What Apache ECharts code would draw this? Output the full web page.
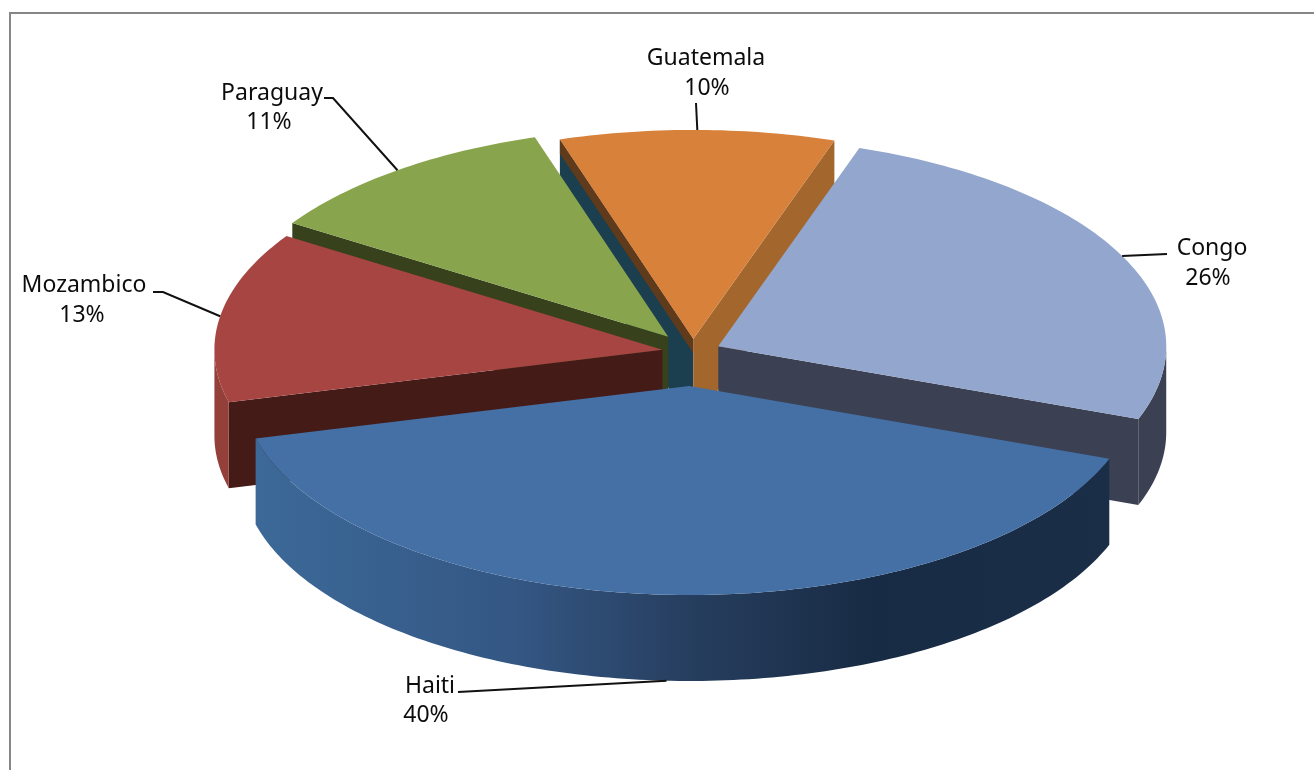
<!DOCTYPE html>
<html>
<head>
<meta charset="utf-8">
<title>Pie</title>
<style>
  html, body { margin: 0; padding: 0; background: #fff; }
  #chart { width: 1314px; height: 770px; }
</style>
<script src="https://cdn.jsdelivr.net/npm/echarts@6/dist/echarts.min.js"></script>
</head>
<body>
<div id="chart"></div>
<script>
const categories = ['Guatemala', 'Congo', 'Haiti', 'Mozambico', 'Paraguay']
const shares = [10, 26, 40, 13, 11]
const percentLabels = ['10%', '26%', '40%', '13%', '11%']

// 从后往前画
const paintOrder = [0, 4, 3, 1, 2]

const center = [693, 352]
const rx = 448
const ry = 209
const depth = 86
const firstAngle = 250.4
const explode = [28, 28, 73, 31, 41]

// [名称x, 名称y, 百分比x, 百分比y]
const labelSpots = [
  [706, 58, 707, 88],
  [1212, 248, 1208, 278],
  [430, 686, 426, 715],
  [84, 285, 82, 315],
  [272, 93, 269, 122]
]
// 引线拐点
const leaderStarts = [
  [[696, 103]],
  [[1167, 254]],
  [[458, 692]],
  [[153, 292], [163, 292]],
  [[324, 98], [333, 98]]
]

const topColors = ['#D7813B', '#93A7CE', '#4570A6', '#A64542', '#88A44D']
const wallColors = ['#A3662D', '#3B4152', '#2A4666', '#451B18', '#37411C']
const outerColors = ['#A3662D', '#3B4152', null, '#93403A', '#37411C']

const total = shares.reduce((a, b) => a + b, 0)
const rad = (a) => a * Math.PI / 180
// 透视造成的角度偏移
const warp = (a) => a + 1.2 + 1.1 * Math.cos(rad(a - 240))

function sliceAngles (index) {
  let from = firstAngle
  for (let i = 0; i < index; i++) from += shares[i] / total * 360
  return [from, from + shares[index] / total * 360]
}

function apexOf (index) {
  const [a, b] = sliceAngles(index)
  const mid = rad((warp(a) + warp(b)) / 2)
  return [
    center[0] + explode[index] * Math.cos(mid),
    center[1] + explode[index] * Math.sin(mid) * ry / rx
  ]
}

function rimPoint (apex, angle, drop) {
  return [
    apex[0] + rx * Math.cos(rad(angle)),
    apex[1] + ry * Math.sin(rad(angle)) + (drop || 0)
  ]
}

function poly (points, fill) {
  return { type: 'polygon', silent: true, shape: { points }, style: { fill } }
}

// 径向切面
function edgeWall (apex, angle, fill, h) {
  const p = rimPoint(apex, angle)
  return poly([apex, p, [p[0], p[1] + h], [apex[0], apex[1] + h]], fill)
}

function hlabel (x, y, text) {
  return {
    type: 'text',
    silent: true,
    style: {
      x, y, text,
      fill: '#0c0c0c',
      font: '23px "Noto Sans"',
      textAlign: 'center',
      textVerticalAlign: 'middle'
    }
  }
}

function renderSlice (params, api) {
  const index = api.value(1)
  const [a0, b0] = sliceAngles(index)
  const a = warp(a0)
  const b = warp(b0)
  const apex = apexOf(index)
  const children = []

  // 只画能看到的切面
  if (index === 0) {
    children.push(edgeWall(apex, a, '#1B3F4E', depth))
    children.push(edgeWall(apex, a, '#5F3B1C', 14))
    children.push(edgeWall(apex, b, wallColors[0], depth))
  } else if (index === 1) {
    children.push(edgeWall(apex, b, wallColors[1], depth))
  } else if (index === 3 || index === 4) {
    children.push(edgeWall(apex, a, wallColors[index], depth))
  }

  // 外侧弧面，只有前半圈
  const front = []
  for (let t = a; t <= b; t += 1) {
    const s = Math.sin(rad(t))
    if (s > 0) front.push(t)
  }
  if (front.length > 1) {
    front.push(Math.min(b, front[front.length - 1] + 1))
    const upper = front.map(t => rimPoint(apex, t))
    const lower = front.map(t => rimPoint(apex, t, depth)).reverse()
    let fill = outerColors[index]
    if (index === 2) {
      fill = new echarts.graphic.LinearGradient(256, 0, 1110, 0, [
        { offset: 0, color: '#3C6998' },
        { offset: 0.3, color: '#345784' },
        { offset: 0.5, color: '#273F60' },
        { offset: 0.72, color: '#182B44' },
        { offset: 1, color: '#1B2E47' }
      ], true)
    }
    children.push(poly(upper.concat(lower), fill))
  }

  // 顶面
  const top = [apex]
  for (let t = a; t < b; t += 1) top.push(rimPoint(apex, t))
  top.push(rimPoint(apex, b))
  children.push(poly(top, topColors[index]))

  return { type: 'group', children }
}

// 引线和文字最后画，压在所有扇形上面
function renderLabel (params, api) {
  const index = api.value(1)
  const [a0, b0] = sliceAngles(index)
  const mid = (warp(a0) + warp(b0)) / 2
  const drop = Math.sin(rad(mid)) > 0.5 ? depth : 0
  const end = rimPoint(apexOf(index), mid, drop)
  const spot = labelSpots[index]
  return {
    type: 'group',
    children: [
      {
        type: 'polyline',
        silent: true,
        shape: { points: leaderStarts[index].concat([end]) },
        style: { stroke: '#111', lineWidth: 2, fill: null }
      },
      hlabel(spot[0], spot[1], categories[index]),
      hlabel(spot[2], spot[3], percentLabels[index])
    ]
  }
}

const sliceData = paintOrder.map(i => ({ name: categories[i], value: [shares[i], i] }))

const chart = echarts.init(document.getElementById('chart'), null, { renderer: 'canvas' })
chart.setOption({
  animation: false,
  backgroundColor: '#fff',
  graphic: [{
    type: 'polyline',
    silent: true,
    shape: { points: [[10, 770], [10, 13], [1314, 13]] },
    style: { stroke: '#868686', lineWidth: 2, fill: null }
  }],
  series: [
    { type: 'custom', coordinateSystem: 'none', renderItem: renderSlice, data: sliceData, z: 2 },
    { type: 'custom', coordinateSystem: 'none', renderItem: renderLabel, data: sliceData, z: 3 }
  ]
})
</script>
</body>
</html>
